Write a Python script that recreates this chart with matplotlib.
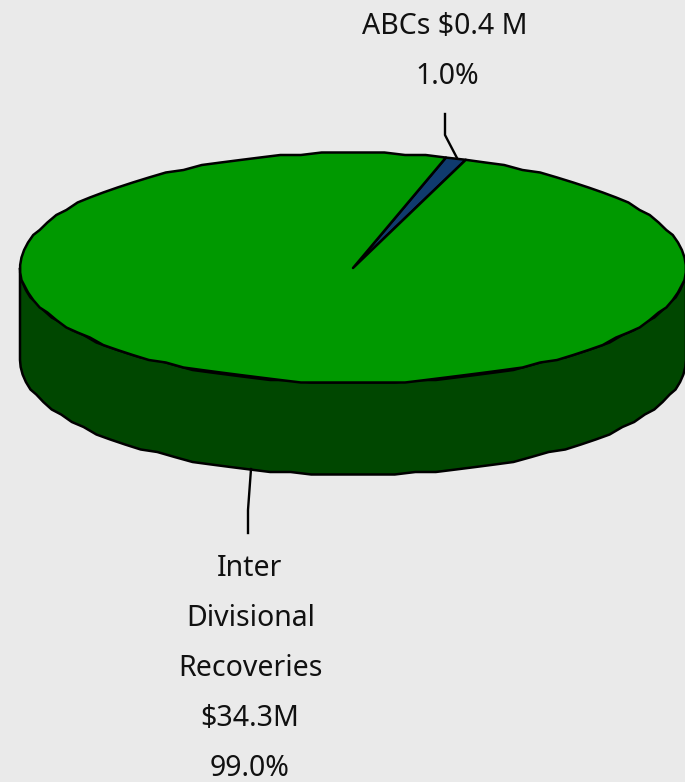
import matplotlib
matplotlib.use("Agg")
import matplotlib.pyplot as plt
from matplotlib.patches import Polygon
import numpy as np

# values from the labels
shares = [1.0, 99.0]
slice_colors = ["#0F3B6E", "#009900"]
label_lines = [["ABCs $0.4 M", "1.0%"],
               ["Inter", "Divisional", "Recoveries", "$34.3M", "99.0%"]]

# geometry in pixels of the picture
cx, cy = 353, 268
rx, ry = 333, 115
depth = 92
start = 70.2
step = 3.6
grid = 2.5

def rim(a0, a1, dy=0):
    # snap to a small grid, the source chart has a slightly jagged outline
    n = max(int(round(abs(a1 - a0) / step)), 1)
    t = np.radians(np.linspace(a0, a1, n + 1))
    x = cx + rx * np.cos(t)
    y = cy - ry * np.sin(t)
    y[1:-1] = np.round(y[1:-1] / grid) * grid
    return np.column_stack([x, y + dy])

fig = plt.figure(figsize=(6.85, 7.82), dpi=100, facecolor="#EAEAEA")
ax = fig.add_axes([0, 0, 1, 1])
ax.set_xlim(0, 685)
ax.set_ylim(782, 0)
ax.axis("off")

# side wall
side = np.vstack([rim(180, 360), rim(360, 180, depth)])
ax.add_patch(Polygon(side, closed=True, fc="#004700", ec="black", lw=1.8, joinstyle="round"))

# top slices
a0 = start
for share, col in zip(shares, slice_colors):
    a1 = a0 + share * 3.6
    pts = np.vstack([[cx, cy], rim(a0, a1)])
    ax.add_patch(Polygon(pts, closed=True, fc=col, ec="black", lw=1.8, joinstyle="round", zorder=3))
    a0 = a1

# leader lines
ax.plot([445, 445, 457], [114, 135, 158], color="black", lw=1.7, zorder=4)
ax.plot([251, 248, 248], [469, 510, 533], color="black", lw=1.7, zorder=4)

font = dict(family="Noto Sans", fontsize=20.5, color="#111111", ha="center", va="center")
for line, x, y in zip(label_lines[0], [445, 447], [26, 77]):
    ax.text(x, y, line, **font)
for line, x, y in zip(label_lines[1], [250, 251, 250, 250, 250], [568, 619, 669, 719, 769]):
    ax.text(x, y, line, **font)

fig.savefig("out.png", dpi=100, facecolor=fig.get_facecolor())
